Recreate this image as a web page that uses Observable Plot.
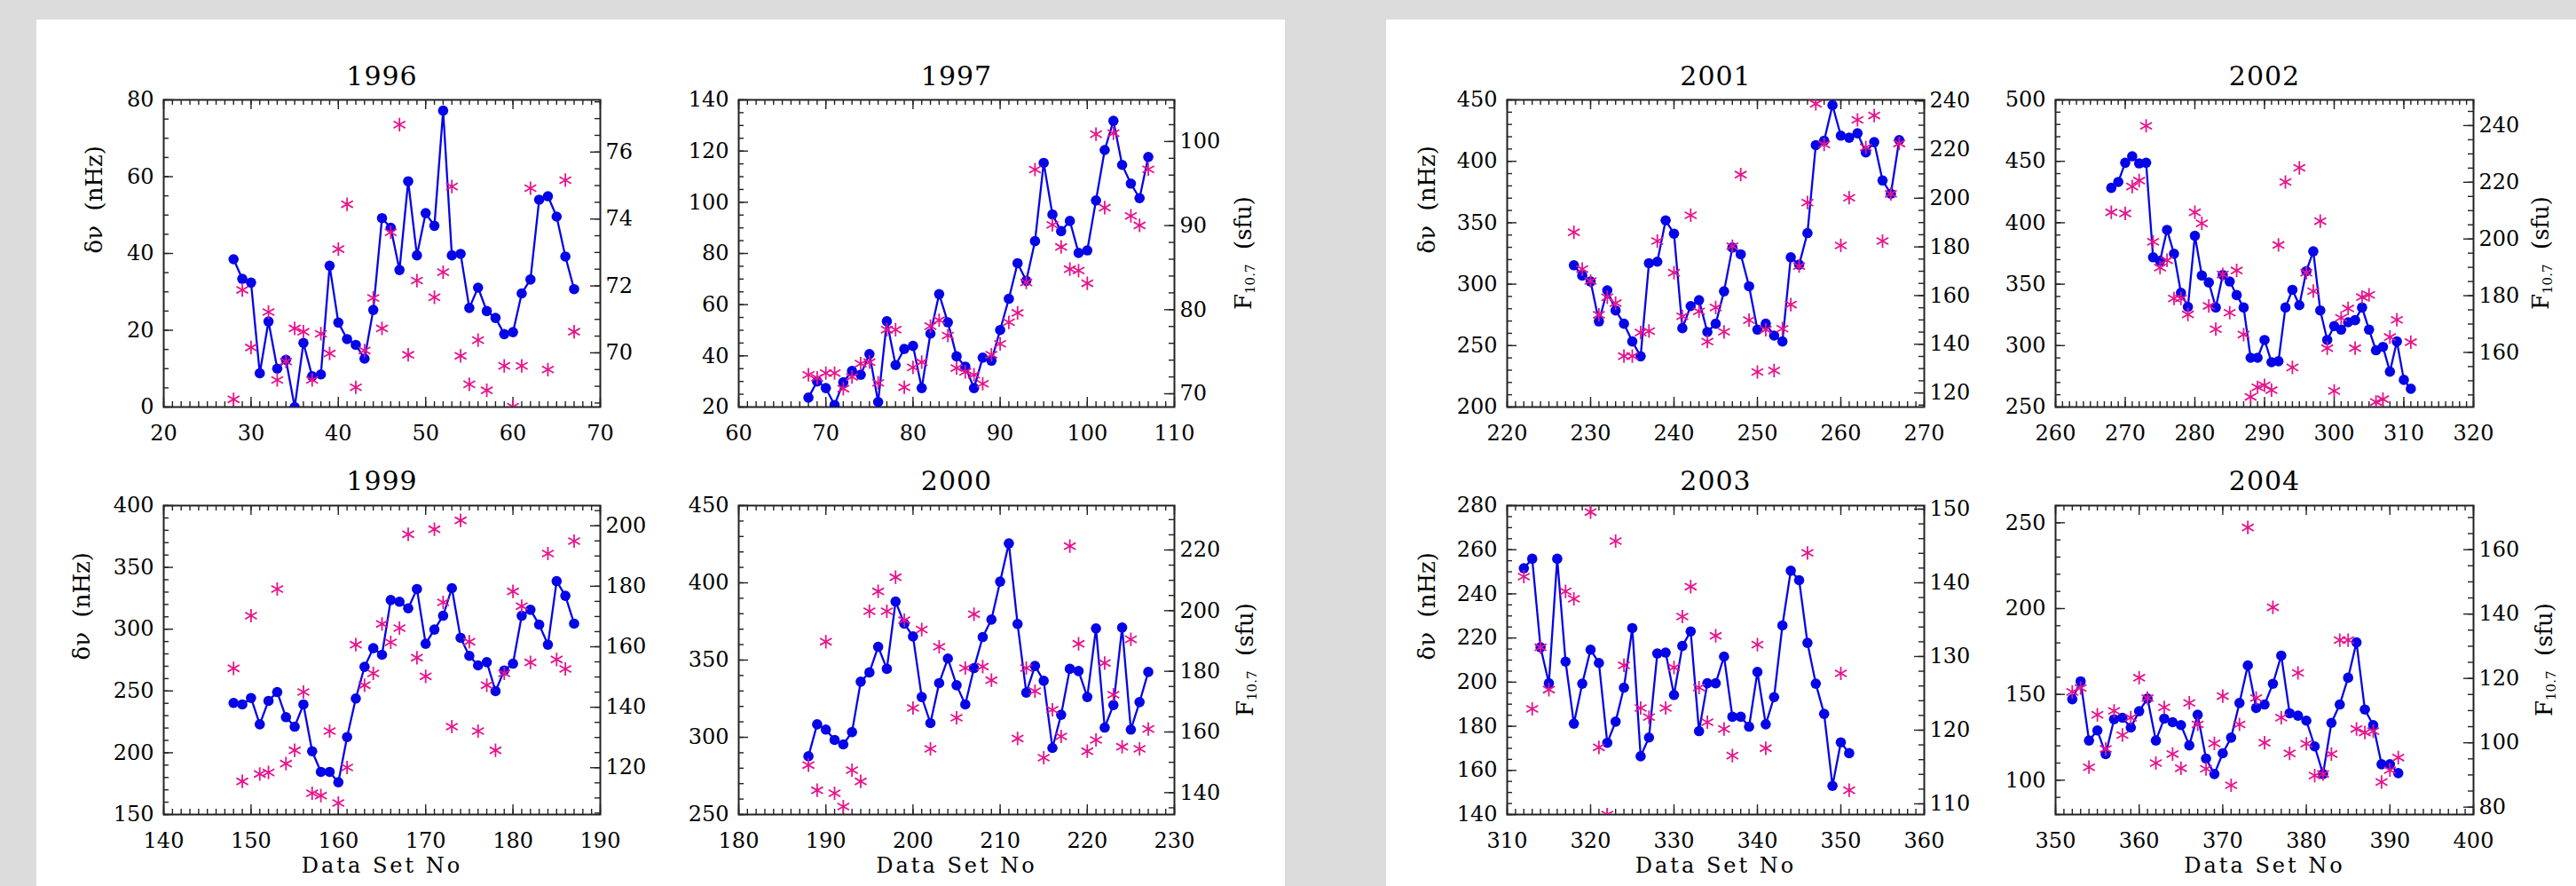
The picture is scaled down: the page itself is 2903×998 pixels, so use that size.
<!DOCTYPE html>
<html><head><meta charset="utf-8">
<script src="https://cdn.jsdelivr.net/npm/d3@7"></script>
<script src="https://cdn.jsdelivr.net/npm/@observablehq/plot@0.6"></script>
<style>
body{margin:0;background:#dcdcdc;}
#page{position:relative;width:2903px;height:998px;background:#dcdcdc;overflow:hidden;}
.panel{position:absolute;background:#ffffff;}
.sub{position:absolute;}
</style></head><body><div id="page">
<div class="panel" style="left:41px;top:22px;width:1407px;height:976px"></div>
<div class="panel" style="left:1562px;top:22px;width:1341px;height:976px"></div>
</div>
<script>
// ---------- data ----------
const years = ["1996", "1997", "1999", "2000", "2001", "2002", "2003", "2004"];
const firstSet = [28, 68, 148, 188, 228, 268, 312, 352];

const dnu1996 = [38.5, 33.4, 32.4, 8.8, 22.3, 10, 12.3, 0, 16.7, 8, 8.5, 36.8, 22, 17.7, 16.2, 12.6, 25.3, 49.2, 46.7, 35.7, 58.8, 39.5, 50.5, 47.2, 77.2, 39.5, 39.9, 25.8, 31.1, 25, 23.2, 19, 19.5, 29.6, 33.2, 54, 54.9, 49.6, 39.2, 30.7];
const f1996 = [68.61, 71.88, 70.16, null, 71.22, 69.19, 69.74, 70.73, 70.63, 69.19, 70.57, 69.98, 73.10, 74.44, 68.97, 70.07, 71.64, 70.73, 73.60, 76.82, 69.94, 72.16, null, 71.66, 72.41, 74.97, 69.91, 69.06, 70.38, 68.88, null, 69.61, 68.39, 69.61, 74.92, null, 69.50, null, 75.16, 70.63];

const dnu1997 = [23.7, 30.0, 27.4, 20.8, 29.7, 34.1, 32.6, 40.7, 22.0, 53.5, 36.4, 42.7, 43.9, 27.4, 48.7, 64.1, 53.1, 39.8, 35.8, 27.4, 39.3, 38.1, 50.1, 62.3, 76.2, 69.3, 84.8, 115.4, 95.2, 88.7, 92.7, 80.2, 81.2, 100.7, 120.4, 131.8, 114.6, 107.3, 101.6, 117.7];
const f1997 = [72.25, 71.90, 72.46, 72.46, 70.60, 72.00, 73.58, 73.76, 71.30, 77.62, 77.62, 70.77, 73.13, 73.76, 78.04, 78.75, 76.92, 73.06, 72.60, 72.25, 71.19, 74.64, 75.94, 78.50, 79.62, 83.24, 96.66, null, 90.09, 87.46, 84.82, 84.65, 83.14, 100.87, 92.13, 100.98, null, 91.15, 90.02, 96.69];

const dnu1999 = [240.3, 239.1, 244.3, 223.0, 242.0, 249.1, 228.8, 221.1, 239.1, 201.2, 184.5, 184.5, 176.1, 212.7, 243.9, 269.5, 284.6, 279.3, 323.6, 322.2, 316.9, 332.5, 288.2, 299.7, 310.9, 333.2, 293.0, 278.4, 270.7, 273.3, 249.9, 266.6, 272.1, 310.9, 315.7, 303.7, 287.5, 338.9, 327.0, 304.5];
const f1999 = [152.86, 115.48, 170.27, 117.93, 118.42, 179.08, 121.35, 125.75, 145.03, 111.57, 110.78, 132.11, 108.34, 120.08, 160.68, 147.28, 151.19, 167.53, 161.47, 166.16, 197.18, 156.38, 150.22, 198.84, 174.68, 133.58, 201.78, 161.66, 132.11, 147.28, 125.75, 151.19, 178.30, 173.41, 154.81, null, 190.82, 155.79, 152.66, 194.93];

const dnu2000 = [287.7, 308.4, 305.0, 298.3, 295.4, 303.4, 336.0, 342.0, 358.6, 344.3, 387.9, 373.6, 365.3, 326.1, 309.2, 335.1, 351.0, 333.7, 321.3, 344.8, 364.9, 376.2, 400.8, 425.5, 373.4, 328.9, 346.2, 336.6, 293.1, 314.6, 344.3, 342.9, 326.1, 370.5, 306.3, 320.9, 371.1, 305.0, 322.8, 342.3];
const f2000 = [149.07, 140.78, 189.76, 139.80, 135.41, 147.41, 143.71, 199.80, 206.34, 199.80, 211.02, 196.88, 167.90, 193.76, 154.44, 188.10, null, 164.68, 181.07, 198.83, 181.56, 177.07, null, null, 157.85, 181.07, 173.46, 151.51, 167.32, 158.54, 221.27, 189.07, 153.66, 157.37, 182.73, 172.29, 155.12, 190.54, 154.44, 160.98];

const dnu2001 = [315.4, 307.0, 302.2, 269.7, 295.0, 278.6, 267.8, 253.4, 241.3, 317.1, 318.3, 351.9, 341.1, 264.2, 282.2, 287.0, 261.1, 267.8, 294.2, 329.8, 324.3, 298.3, 263.0, 267.8, 258.2, 253.4, 321.9, 315.9, 341.6, 413.2, 416.8, 445.7, 420.9, 419.2, 422.8, 407.2, 415.6, 384.4, 373.6, 417.3];
const f2001 = [186.0, 170.9, 166.0, 152.1, 159.3, 156.9, 135.1, 135.1, 144.8, 145.4, 182.4, null, 169.4, 151.5, 193.0, 153.5, 141.1, 155.1, 145.1, 180.3, 209.7, 149.9, 128.6, 146.0, 129.2, 146.4, 156.3, 172.1, 198.2, 238.8, 222.1, null, 180.6, 200.2, 232.2, 220.9, 234.0, 182.4, 201.8, 222.5];

const dnu2002 = [428.4, 433.2, 448.8, 454.1, 448.3, 448.8, 371.9, 369.0, 394.2, 374.8, 343.0, 331.5, 389.4, 357.0, 351.4, 331.0, 357.5, 352.2, 341.1, 331.0, 290.1, 290.1, 304.6, 286.5, 287.3, 331.0, 345.4, 332.9, 360.6, 376.7, 328.6, 304.6, 315.9, 313.0, 319.0, 320.7, 331.0, 313.0, 296.2, 299.0, 278.8, 303.4, 272.1, 264.9];
const f2002 = [209.4, null, 209.0, 218.5, 220.6, 239.9, 199.0, 189.9, 192.5, 179.0, 179.0, 173.4, 209.4, 205.5, 176.4, 168.2, 187.5, 174.0, 188.9, 166.3, 144.3, 147.7, 148.4, 146.7, 197.9, 220.1, 154.7, 225.1, 188.1, 181.6, 206.3, 161.5, 146.4, 172.2, 175.5, 161.5, 179.5, 180.3, 142.5, 143.5, 165.4, 171.5, null, 163.6];

const dnu2003 = [251.6, 255.9, 215.8, 199.5, 255.9, 209.3, 181.2, 199.3, 214.7, 208.7, 172.5, 182.1, 197.5, 224.5, 166.4, 174.9, 213.0, 213.4, 194.2, 216.4, 223.0, 177.8, 199.5, 199.5, 211.6, 184.3, 184.3, 179.8, 204.6, 180.9, 193.2, 225.7, 250.5, 246.2, 217.8, 199.3, 185.6, 153.0, 172.7, 167.8];
const f2003 = [140.84, 122.89, 131.24, 125.50, null, 138.84, 137.83, null, 149.60, 117.67, 108.55, 145.66, 128.80, null, 123.01, 121.77, null, 123.01, 128.51, 135.42, 139.48, 125.78, 121.08, 132.81, 120.16, 116.55, null, null, 131.61, 117.55, null, null, null, null, 144.06, null, null, null, 127.71, 111.85];

const dnu2004 = [147.2, 157.6, 123.1, 129.0, 115.2, 135.5, 136.4, 130.7, 140.2, 147.6, 123.1, 135.9, 133.8, 132.1, 120.3, 138.1, 112.6, 103.6, 115.7, 124.8, 145.0, 166.9, 142.1, 144.1, 156.2, 172.6, 139.0, 137.6, 134.7, 119.7, 103.6, 133.4, 144.1, 159.7, 180.3, 141.2, 132.1, 109.3, 109.3, 104.1];
const f2004 = [115.8, 117.0, 92.4, 108.7, 98.1, 109.9, 102.4, 107.8, 120.2, 113.9, 93.7, 111.0, 96.5, 92.1, 112.4, 105.7, 91.9, 99.8, 114.5, 86.8, 105.7, 166.9, 113.9, 100.0, 142.1, 107.8, 96.7, 121.7, 99.7, 89.8, 90.3, 96.5, 131.9, 131.9, 104.3, 103.2, 103.6, 87.8, 91.5, 95.4];

const dnu = [dnu1996, dnu1997, dnu1999, dnu2000, dnu2001, dnu2002, dnu2003, dnu2004];
const flux = [f1996, f1997, f1999, f2000, f2001, f2002, f2003, f2004];

// axis domains and ticks
const xDomains = [[20, 70], [60, 110], [140, 190], [180, 230], [220, 270], [260, 320], [310, 360], [350, 400]];
const leftDomains = [[0, 80], [20, 140], [150, 400], [250, 450], [200, 450], [250, 500], [140, 280], [80, 260]];
const rightDomains = [[68.38, 77.56], [68.42, 104.95], [104.52, 206.67], [132.78, 234.63], [114.20, 240.41], [140.73, 249.06], [108.55, 150.48], [77.70, 173.70]];
const leftSteps = [[20, 5], [20, 5], [50, 10], [50, 10], [50, 10], [50, 10], [20, 5], [50, 10]];
const rightTicks = [[70, 72, 74, 76], [70, 80, 90, 100], [120, 140, 160, 180, 200], [140, 160, 180, 200, 220], [120, 140, 160, 180, 200, 220, 240], [160, 180, 200, 220, 240], [110, 120, 130, 140, 150], [80, 100, 120, 140, 160]];
const rightMinor = [0.5, 2, 5, 5, 5, 5, 2, 5];
const xLabel = "Data Set No";
const leftLabel = "δν\u00a0\u00a0(nHz)";

// ---------- layout ----------
const frames = [
  {left: 184, top: 112, w: 492, h: 346, yl: 78},
  {left: 832, top: 112, w: 491, h: 346, yl: 80},
  {left: 184, top: 569, w: 492, h: 348, yl: 92},
  {left: 832, top: 569, w: 491, h: 348, yl: 82},
  {left: 1698, top: 112, w: 470, h: 346, yl: 90},
  {left: 2316, top: 112, w: 471, h: 346, yl: 78},
  {left: 1698, top: 569, w: 470, h: 348, yl: 90},
  {left: 2316, top: 569, w: 471, h: 348, yl: 82}
];
const BLUE = "#0505e8", PINK = "#e6148c", INK = "#222";
const FONT = "'DejaVu Serif', serif";
const page = document.getElementById("page");

function makePanel(i) {
  const fr = frames[i], W = fr.w, H = fr.h;
  const [x0, x1] = xDomains[i], [l0, l1] = leftDomains[i], [r0, r1] = rightDomains[i];
  const toLeft = v => l0 + (v - r0) * (l1 - l0) / (r1 - r0);
  const fromLeft = v => r0 + (v - l0) * (r1 - r0) / (l1 - l0);
  const rows = dnu[i].map((v, k) => ({set: firstSet[i] + k, dnu: v}));
  const stars = flux[i].map((v, k) => ({set: firstSet[i] + k, f: v}))
    .filter(d => d.f != null).map(d => ({set: d.set, y: toLeft(d.f)}));
  const isLeftCol = [0, 2, 4, 6].includes(i);
  const isBottom = [2, 3, 6, 7].includes(i);
  const ml = 105, mr = 105, mt = 60, mb = isBottom ? 90 : 50;

  const [ls, lm] = leftSteps[i];
  const xMaj = d3.range(x0, x1 + 1e-9, 10);
  const xMin = d3.range(x0, x1 + 1e-9, 1);
  const lMaj = d3.range(Math.ceil(l0 / ls) * ls, l1 + 1e-9, ls);
  const lMin = d3.range(Math.ceil(l0 / lm) * lm, l1 + 1e-9, lm);
  const rm = rightMinor[i];
  const rMaj = rightTicks[i].map(toLeft);
  const rMin = d3.range(Math.ceil(r0 / rm) * rm, r1 + 1e-9, rm).map(toLeft);
  const tk = {stroke: INK, strokeWidth: 1.4};
  const MAJ = 11, MIN = 6;

  const marks = [
    Plot.tickX(xMin, {x: d => d, insetTop: H - MIN, ...tk}),
    Plot.tickX(xMin, {x: d => d, insetBottom: H - MIN, ...tk}),
    Plot.tickX(xMaj, {x: d => d, insetTop: H - MAJ, ...tk}),
    Plot.tickX(xMaj, {x: d => d, insetBottom: H - MAJ, ...tk}),
    Plot.tickY(lMin, {y: d => d, insetRight: W - MIN, ...tk}),
    Plot.tickY(lMaj, {y: d => d, insetRight: W - MAJ, ...tk}),
    Plot.tickY(rMin, {y: d => d, insetLeft: W - MIN, ...tk}),
    Plot.tickY(rMaj, {y: d => d, insetLeft: W - MAJ, ...tk}),
    Plot.frame({stroke: INK, strokeWidth: 2}),
    Plot.line(rows, {x: "set", y: "dnu", stroke: BLUE, strokeWidth: 2.3, clip: true}),
    Plot.dot(rows, {x: "set", y: "dnu", r: 5.8, fill: BLUE, clip: true}),
    Plot.dot(stars, {x: "set", y: "y", symbol: "asterisk", r: 7.2, stroke: PINK, strokeWidth: 1.8, clip: true}),
    Plot.axisX(xMaj, {anchor: "bottom", tickSize: 0, tickPadding: 20, label: null}),
    Plot.axisY(lMaj, {anchor: "left", tickSize: 0, tickPadding: 11, label: null}),
    Plot.axisY(rMaj, {anchor: "right", tickSize: 0, tickPadding: 6, label: null,
      tickFormat: d => String(Math.round(fromLeft(d)))}),
    Plot.text([years[i]], {frameAnchor: "top", lineAnchor: "middle", dy: isBottom ? -27 : -26, fontSize: 30})
  ];
  if (isLeftCol) {
    marks.push(Plot.text([leftLabel], {frameAnchor: "left", rotate: -90, dx: -fr.yl, fontSize: 26}));
  }
  if (isBottom) {
    marks.push(Plot.text([xLabel], {frameAnchor: "bottom", lineAnchor: "middle", dy: 58, fontSize: 24}));
  }

  const svg = Plot.plot({
    width: W + ml + mr, height: H + mt + mb,
    marginLeft: ml, marginRight: mr, marginTop: mt, marginBottom: mb,
    x: {domain: [x0, x1], label: null},
    y: {domain: [l0, l1], label: null},
    style: {fontFamily: FONT, fontSize: "24px", background: "transparent", overflow: "visible", color: "#000"},
    marks
  });

  // wide lettering of the axis title, as in the reference
  d3.select(svg).selectAll("text").filter(function() { return this.textContent === xLabel; })
    .style("letter-spacing", "3px");
  d3.select(svg).selectAll("text").filter(function() { return this.textContent === years[i]; })
    .style("letter-spacing", "1px");

  if (!isLeftCol) {
    const t = d3.select(svg).append("text")
      .attr("transform", `translate(${ml + W + fr.yl},${mt + H / 2}) rotate(-90)`)
      .attr("text-anchor", "middle")
      .attr("dominant-baseline", "middle")
      .style("white-space", "pre")
      .attr("font-family", FONT)
      .attr("font-size", 26)
      .attr("fill", "#000");
    t.append("tspan").text("F");
    t.append("tspan").attr("font-size", 15).attr("dy", 7).text("10.7");
    t.append("tspan").attr("dy", -7).text("  (sfu)");
  }

  const div = document.createElement("div");
  div.className = "sub";
  div.style.left = (fr.left - ml) + "px";
  div.style.top = (fr.top - mt) + "px";
  div.style.width = (W + ml + mr) + "px";
  div.appendChild(svg);
  page.appendChild(div);
}

for (let i = 0; i < 8; i++) makePanel(i);
</script>
</body></html>
